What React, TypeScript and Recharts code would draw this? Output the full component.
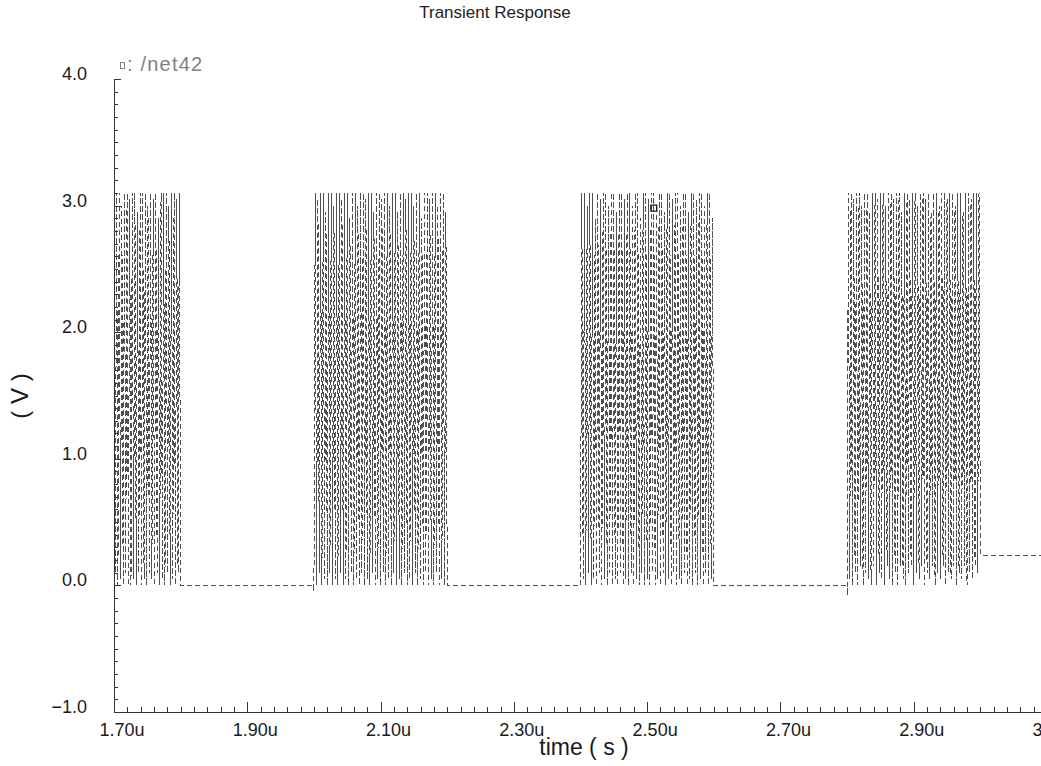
import React from 'react';
import { ComposedChart, Line, Scatter, XAxis, YAxis } from 'recharts';

// bursts of switching activity on /net42 (time in us, value in V)
const burstStarts = [1.7, 2.0, 2.4, 2.8];
const burstEnds = [1.8, 2.2, 2.6, 3.0];

const burstA = [
  2.8, 0.1, 3.1, 0.0, 3.1, 0.05, 3.0, 0.0, 3.1, 0.1,
  3.1, 0.0, 3.05, 0.0, 3.1, 0.05, 3.1, 0.0, 2.95, 0.1,
  3.1, 0.0, 3.1, 0.05, 3.1, 0.0, 3.0, 0.1, 3.1, 0.05,
  3.05, 0.0, 3.1, 0.1, 2.9, 0.0, 3.1, 0.05, 3.1, 0.0,
  3.1, 0.1, 3.0, 0.0, 3.1, 0.05, 3.1, 0.0, 3.05, 0.1,
  3.1, 0.0,
];
const burstB = [
  -0.05, 3.1, 0.0, 3.05, 0.1, 3.1, 0.0, 3.1, 0.05, 2.95,
  0.0, 3.1, 0.1, 3.1, 0.0, 3.0, 0.05, 3.1, 0.0, 3.1,
  0.1, 3.05, 0.0, 3.1, 0.05, 3.1, 0.0, 2.9, 0.1, 3.1,
  0.0, 3.1, 0.05, 3.0, 0.0, 3.1, 0.1, 3.1, 0.0, 3.05,
  0.05, 3.1, 0.0, 3.1, 0.1, 2.95, 0.0, 3.1, 0.05, 3.1,
  0.0, 3.05, 0.1, 3.1, 0.0, 3.1, 0.05, 3.0, 0.0, 3.1,
  0.1, 3.1, 0.0, 2.95, 0.05, 3.1, 0.0, 3.1, 0.1, 3.05,
  0.0, 3.1, 0.05, 3.1, 0.0, 3.0, 0.1, 3.1, 0.0, 3.1,
  0.05, 2.9, 0.0, 3.1, 0.1, 3.1, 0.0, 3.05, 0.05, 3.1,
  0.0, 3.1, 0.1, 3.0, 0.0, 3.1, 0.05, 3.1, 0.0, 2.95,
  0.0,
];
const burstC = [
  0.0, 3.1, 0.05, 3.1, 0.0, 3.0, 0.1, 3.1, 0.0, 3.1,
  0.05, 2.9, 0.0, 3.1, 0.1, 3.05, 0.0, 3.1, 0.05, 3.1,
  0.0, 3.0, 0.1, 3.1, 0.0, 3.1, 0.05, 2.95, 0.0, 3.1,
  0.1, 3.1, 0.0, 3.05, 0.05, 3.1, 0.0, 3.1, 0.1, 3.0,
  0.0, 3.1, 0.05, 3.1, 0.0, 2.9, 0.1, 3.1, 0.0, 3.1,
  0.05, 3.05, 0.0, 3.1, 0.1, 3.1, 0.0, 3.0, 0.05, 3.1,
  0.0, 3.1, 0.1, 2.95, 0.0, 3.1, 0.05, 3.1, 0.0, 3.05,
  0.1, 3.1, 0.0, 3.1, 0.05, 3.0, 0.0, 3.1, 0.1, 3.1,
  0.0, 2.95, 0.05, 3.1, 0.0, 3.1, 0.1, 3.05, 0.0, 3.1,
  0.05, 3.1, 0.0, 3.0, 0.1, 3.1, 0.0, 3.1, 0.05, 2.9,
  0.0,
];
const burstD = [
  -0.08, 3.1, 0.05, 3.1, 0.0, 3.05, 0.1, 3.1, 0.0, 3.1,
  0.15, 3.0, 0.0, 3.1, 0.1, 3.1, 0.05, 2.95, 0.0, 3.1,
  0.15, 3.1, 0.0, 3.05, 0.1, 3.1, 0.05, 3.1, 0.0, 3.0,
  0.15, 3.1, 0.05, 3.1, 0.0, 3.05, 0.1, 3.1, 0.0, 3.1,
  0.15, 2.95, 0.05, 3.1, 0.0, 3.1, 0.1, 3.05, 0.15, 3.1,
  0.0, 3.1, 0.1, 3.0, 0.05, 3.1, 0.15, 3.1, 0.0, 3.05,
  0.1, 3.1, 0.05, 2.95, 0.15, 3.1, 0.0, 3.1, 0.1, 3.0,
  0.05, 3.1, 0.15, 3.1, 0.0, 3.05, 0.1, 3.1, 0.05, 3.1,
  0.15, 3.0, 0.0, 3.1, 0.1, 3.1, 0.05, 2.95, 0.15, 3.1,
  0.0, 3.1, 0.1, 3.05, 0.05, 3.1, 0.15, 3.1, 0.1, 3.1,
  0.24,
];
// level the net sits at after each burst
const idleLevels = [0.0, 0.0, 0.0, 0.24];
const traceEnd = 3.1;

const cursorPoint = [{ t: 2.51, v: 2.98 }];

const xMajorTicks = [1.7, 1.9, 2.1, 2.3, 2.5, 2.7, 2.9, 3.1];
const xMajorLabels = ['1.70u', '1.90u', '2.10u', '2.30u', '2.50u', '2.70u', '2.90u', '3.10u'];
const yMajorTicks = [-1, 0, 1, 2, 3, 4];
const yMajorLabels = ['\u22121.0', '0.0', '1.0', '2.0', '3.0', '4.0'];

const bursts = [burstA, burstB, burstC, burstD];
const trace: { t: number; v: number }[] = [];
bursts.forEach((samples, k) => {
  const start = burstStarts[k];
  const step = (burstEnds[k] - start) / (samples.length - 1);
  samples.forEach((v, i) => trace.push({ t: start + i * step, v }));
  const next = k + 1 < burstStarts.length ? burstStarts[k + 1] : traceEnd;
  trace.push({ t: next, v: idleLevels[k] });
});

// minor ticks every 0.02us and 0.1V
const xTicks = Array.from({ length: 71 }, (_, i) => Math.round((1.7 + i * 0.02) * 1000) / 1000);
const yTicks = Array.from({ length: 51 }, (_, i) => Math.round((-1 + i * 0.1) * 100) / 100);

const FONT = '"Liberation Sans", Arial, sans-serif';
const AXIS = '#333';

const XTick = (props: any) => {
  const { x, y, payload } = props;
  const idx = xMajorTicks.findIndex((m) => Math.abs(m - payload.value) < 1e-6);
  const len = idx >= 0 ? 10 : 5;
  return (
    <g>
      <rect x={Math.round(x)} y={y - len} width={1} height={len} fill={AXIS} />
      {idx >= 0 && (
        <text x={x + 8} y={y + 24} textAnchor="middle" fontSize={18} fontFamily={FONT} fill="#1a1a1a">
          {xMajorLabels[idx]}
        </text>
      )}
    </g>
  );
};

const YTick = (props: any) => {
  const { x, y, payload } = props;
  const idx = yMajorTicks.findIndex((m) => Math.abs(m - payload.value) < 1e-6);
  const len = idx >= 0 ? 7 : 4;
  return (
    <g>
      <rect x={x} y={Math.round(y)} width={len} height={1} fill={AXIS} />
      {idx >= 0 && (
        <text x={x - 27} y={y + 1} textAnchor="end" fontSize={18} fontFamily={FONT} fill="#1a1a1a">
          {yMajorLabels[idx]}
        </text>
      )}
    </g>
  );
};

const CursorBox = (props: any) => (
  <rect x={props.cx - 3} y={props.cy - 3} width={6} height={6} fill="none" stroke="#111" strokeWidth={1.2} />
);

export default function App() {
  return (
    <div style={{ position: 'absolute', left: 0, top: 0, width: 1041, height: 766, overflow: 'hidden', background: '#fff', fontFamily: FONT }}>
      <div style={{ position: 'absolute', left: 0, top: 0 }}>
        <ComposedChart width={1100} height={766} margin={{ top: 79, right: 53, bottom: 0, left: 0 }}>
          <XAxis
            type="number"
            dataKey="t"
            domain={[1.7, 3.1]}
            ticks={xTicks}
            interval={0}
            height={54}
            tickSize={0}
            tickMargin={0}
            tickLine={false}
            tick={<XTick />}
            axisLine={{ stroke: AXIS, shapeRendering: 'crispEdges' }}
            allowDataOverflow
          />
          <YAxis
            type="number"
            dataKey="v"
            domain={[-1, 4]}
            ticks={yTicks}
            interval={0}
            width={114}
            tickSize={0}
            tickMargin={0}
            tickLine={false}
            tick={<YTick />}
            axisLine={{ stroke: AXIS, shapeRendering: 'crispEdges' }}
            allowDataOverflow
          />
          <Line
            data={trace}
            dataKey="v"
            type="linear"
            stroke="#505050"
            strokeWidth={1}
            strokeDasharray="5 3"
            shapeRendering="crispEdges"
            dot={false}
            activeDot={false}
            isAnimationActive={false}
          />
          <Scatter data={cursorPoint} dataKey="v" shape={<CursorBox />} isAnimationActive={false} />
        </ComposedChart>
      </div>
      <div style={{ position: 'absolute', top: 3, left: 395, width: 200, textAlign: 'center', fontSize: 17, color: '#222', whiteSpace: 'nowrap' }}>
        Transient Response
      </div>
      <div style={{ position: 'absolute', top: 53, left: 120, fontSize: 20, letterSpacing: 1.2, color: '#808080', whiteSpace: 'nowrap' }}>
        <span style={{ display: 'inline-block', width: 3, height: 5, border: '1px solid #808080', marginRight: 2, verticalAlign: 'middle' }} />
        : /net42
      </div>
      <div style={{ position: 'absolute', top: 734, left: 484, width: 200, textAlign: 'center', fontSize: 23, color: '#1a1a1a', whiteSpace: 'nowrap' }}>
        time ( s )
      </div>
      <div style={{ position: 'absolute', top: 382, left: -30, width: 100, textAlign: 'center', fontSize: 24, color: '#1a1a1a', transform: 'rotate(-90deg)', whiteSpace: 'nowrap' }}>
        ( V )
      </div>
    </div>
  );
}
